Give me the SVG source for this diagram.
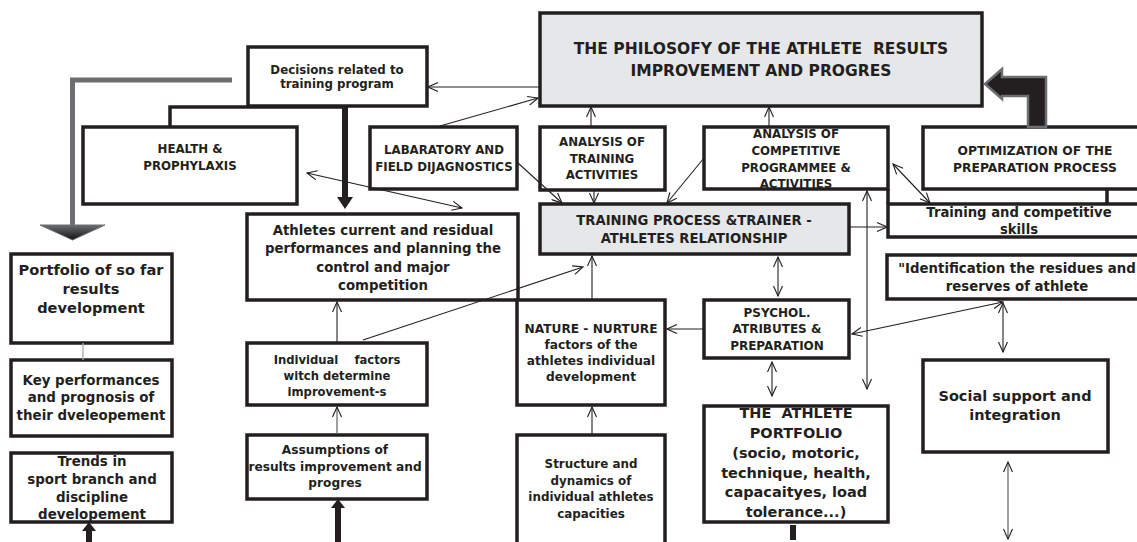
<svg xmlns="http://www.w3.org/2000/svg" width="1137" height="542" viewBox="0 0 1137 542">
<style>
.b{fill:#fff;stroke:#231f20;stroke-width:3.5}
.g{fill:#e6e7e8;stroke:#231f20;stroke-width:3.5}
.t{font-family:"DejaVu Sans","Liberation Sans",sans-serif;font-weight:bold;fill:#231f20;text-anchor:middle}
.c{stroke:#231f20;stroke-width:1.1;fill:none}
.cg{stroke:#6d6e71;stroke-width:1.3;fill:none}
</style>
<defs>
<marker id="ah" viewBox="0 0 12 10" refX="11" refY="5" markerWidth="12" markerHeight="10" markerUnits="userSpaceOnUse" orient="auto-start-reverse">
<path d="M1,0.5 L11,5 L1,9.5" fill="none" stroke="#231f20" stroke-width="1.1"/>
</marker>
<linearGradient id="gg" x1="0" y1="0" x2="0" y2="1">
<stop offset="0" stop-color="#6d6e71"/><stop offset="1" stop-color="#111"/>
</linearGradient>
</defs>

<g id="health-back"><path d="M170,127 V107 H345" fill="none" stroke="#231f20" stroke-width="3.5"/></g>

<g id="decisions"><rect class="b" x="248" y="47" width="179" height="59"/>
<text class="t" font-size="11.8"><tspan x="337" y="74">Decisions related to</tspan><tspan x="337" y="88">training program</tspan></text></g>

<g id="philosophy"><rect class="g" x="540" y="13" width="442" height="93"/>
<text class="t" font-size="15.5" xml:space="preserve"><tspan x="761" y="54">THE PHILOSOFY OF THE ATHLETE  RESULTS</tspan><tspan x="761" y="76">IMPROVEMENT AND PROGRES</tspan></text></g>

<g id="health"><rect class="b" x="83" y="127" width="214" height="77"/>
<text class="t" font-size="11.8"><tspan x="190" y="153">HEALTH &amp;</tspan><tspan x="190" y="170">PROPHYLAXIS</tspan></text></g>

<g id="lab"><rect class="b" x="370" y="127" width="147" height="62"/>
<text class="t" font-size="11.8"><tspan x="444" y="154">LABARATORY AND</tspan><tspan x="444" y="171">FIELD DIJAGNOSTICS</tspan></text></g>

<g id="analysis-training"><rect class="b" x="540" y="127" width="125" height="63"/>
<text class="t" font-size="11.8"><tspan x="602" y="146">ANALYSIS OF</tspan><tspan x="602" y="163">TRAINING</tspan><tspan x="602" y="179">ACTIVITIES</tspan></text></g>

<g id="analysis-competitive"><rect class="b" x="704" y="127" width="184" height="62"/>
<text class="t" font-size="11.8"><tspan x="796" y="138">ANALYSIS OF</tspan><tspan x="796" y="155">COMPETITIVE</tspan><tspan x="796" y="172">PROGRAMMEE &amp;</tspan><tspan x="796" y="188">ACTIVITIES</tspan></text></g>

<g id="optimization"><rect class="b" x="923" y="127" width="216" height="62"/>
<text class="t" font-size="12.3"><tspan x="1035" y="155">OPTIMIZATION OF THE</tspan><tspan x="1035" y="172">PREPARATION PROCESS</tspan></text></g>

<g id="skills"><path d="M888,189 V204 M1107,189 V204" stroke="#231f20" stroke-width="3.5"/><rect class="b" x="888" y="204" width="251" height="33"/>
<text class="t" font-size="13.2"><tspan x="1019" y="217">Training and competitive</tspan><tspan x="1019" y="234">skills</tspan></text></g>

<g id="training-process"><rect class="g" x="540" y="204" width="309" height="50"/>
<text class="t" font-size="13.2"><tspan x="694" y="225">TRAINING PROCESS &amp;TRAINER -</tspan><tspan x="694" y="243">ATHLETES RELATIONSHIP</tspan></text></g>

<g id="athletes-current"><rect class="b" x="247" y="214" width="271" height="86"/>
<text class="t" font-size="13.3"><tspan x="383" y="235">Athletes current and residual</tspan><tspan x="383" y="253">performances and planning the</tspan><tspan x="383" y="272">control and major</tspan><tspan x="383" y="290">competition</tspan></text></g>

<g id="identification"><rect class="b" x="887" y="255" width="252" height="44"/>
<text class="t" font-size="13.3"><tspan x="1017" y="273">"Identification the residues and</tspan><tspan x="1017" y="291">reserves of athlete</tspan></text></g>

<g id="portfolio-so-far"><rect class="b" x="11" y="254" width="161" height="89"/>
<text class="t" font-size="14.6"><tspan x="91" y="275">Portfolio of so far</tspan><tspan x="91" y="294">results</tspan><tspan x="91" y="313">development</tspan></text></g>

<g id="key-performances"><rect class="b" x="11" y="360" width="161" height="76"/>
<text class="t" font-size="13.4"><tspan x="91" y="385">Key performances</tspan><tspan x="91" y="402">and prognosis of</tspan><tspan x="91" y="420">their dveleopement</tspan></text></g>

<g id="trends"><rect class="b" x="11" y="453" width="161" height="69"/>
<text class="t" font-size="13.4"><tspan x="92" y="466">Trends in</tspan><tspan x="92" y="484">sport branch and</tspan><tspan x="92" y="502">discipline</tspan><tspan x="92" y="519">developement</tspan></text></g>

<g id="individual"><rect class="b" x="247" y="343" width="180" height="62"/>
<text class="t" font-size="11.6" xml:space="preserve"><tspan x="337" y="364">Individual    factors</tspan><tspan x="337" y="380">witch determine</tspan><tspan x="337" y="396">improvement-s</tspan></text></g>

<g id="assumptions"><rect class="b" x="247" y="435" width="180" height="64"/>
<text class="t" font-size="12.2"><tspan x="335" y="454">Assumptions of</tspan><tspan x="335" y="471">results improvement and</tspan><tspan x="335" y="487">progres</tspan></text></g>

<g id="nature-nurture"><rect class="b" x="517" y="300" width="148" height="105"/>
<text class="t" font-size="12.2"><tspan x="591" y="333">NATURE - NURTURE</tspan><tspan x="591" y="349">factors of the</tspan><tspan x="591" y="365">athletes individual</tspan><tspan x="591" y="381">development</tspan></text></g>

<g id="structure"><rect class="b" x="517" y="435" width="148" height="120"/>
<text class="t" font-size="11.9"><tspan x="591" y="468">Structure and</tspan><tspan x="591" y="485">dynamics of</tspan><tspan x="591" y="501">individual athletes</tspan><tspan x="591" y="518">capacities</tspan></text></g>

<g id="psychol"><rect class="b" x="704" y="300" width="145" height="58"/>
<text class="t" font-size="12"><tspan x="777" y="317">PSYCHOL.</tspan><tspan x="777" y="333">ATRIBUTES &amp;</tspan><tspan x="777" y="350">PREPARATION</tspan></text></g>

<g id="athlete-portfolio"><rect class="b" x="704" y="406" width="184" height="116"/>
<text class="t" font-size="14.5" xml:space="preserve"><tspan x="796" y="418">THE  ATHLETE</tspan><tspan x="796" y="438">PORTFOLIO</tspan><tspan x="796" y="458">(socio, motoric,</tspan><tspan x="796" y="478">technique, health,</tspan><tspan x="796" y="497">capacaityes, load</tspan><tspan x="796" y="517">tolerance...)</tspan></text></g>

<g id="social"><rect class="b" x="923" y="360" width="185" height="92"/>
<text class="t" font-size="14.5"><tspan x="1015" y="401">Social support and</tspan><tspan x="1015" y="420">integration</tspan></text></g>

<g id="connectors">
<!-- gray elbow arrow to portfolio -->
<path d="M232,80 H72.5 V226" fill="none" stroke="#6d6e71" stroke-width="5"/>
<polygon points="40,225 105,225 72.5,240" fill="url(#gg)" stroke="#6d6e71" stroke-width="1"/>
<!-- thick arrow from optimization to philosophy -->
<polygon points="985,84 1002,69 1002,77 1046,77 1046,127 1028,127 1028,96 1002,96 1002,99" fill="#231f20" stroke="#6d6e71" stroke-width="2.5" stroke-linejoin="miter"/>
<!-- thick arrow decisions to athletes current -->
<rect x="342" y="106" width="6" height="93" fill="#231f20"/>
<polygon points="337,197 353,197 345,209" fill="#231f20"/>
<!-- thick arrow up into trends -->
<rect x="86" y="529" width="6" height="13" fill="#231f20"/>
<polygon points="82,531 96,531 89,522" fill="#231f20"/>
<!-- thick arrow up into assumptions -->
<rect x="335" y="506" width="6" height="36" fill="#231f20"/>
<polygon points="331,508 345,508 338,499" fill="#231f20"/>
<!-- thick stub below athlete portfolio -->
<rect x="790" y="525" width="6" height="15" fill="#231f20"/>
<!-- portfolio to key -->
<line x1="83" y1="343" x2="83" y2="360" stroke="#a7a9ac" stroke-width="1.3"/>

<line class="c" x1="540" y1="87" x2="428" y2="87" marker-end="url(#ah)"/>
<line class="c" x1="440" y1="126" x2="538" y2="98" marker-end="url(#ah)"/>
<line class="c" x1="591" y1="127" x2="591" y2="107" marker-end="url(#ah)"/>
<line class="c" x1="769" y1="127" x2="769" y2="107" marker-end="url(#ah)"/>
<line class="c" x1="518" y1="163" x2="562" y2="203" marker-end="url(#ah)"/>
<line class="c" x1="594" y1="190" x2="594" y2="203" marker-end="url(#ah)"/>
<line class="c" x1="704" y1="158" x2="667" y2="203" marker-end="url(#ah)"/>
<line class="c" x1="893" y1="164" x2="930" y2="203" marker-start="url(#ah)" marker-end="url(#ah)"/>
<line class="c" x1="849" y1="227" x2="887" y2="227" marker-end="url(#ah)"/>
<line class="c" x1="867" y1="191" x2="867" y2="389" marker-start="url(#ah)" marker-end="url(#ah)"/>
<line class="c" x1="778" y1="257" x2="778" y2="296" marker-start="url(#ah)" marker-end="url(#ah)"/>
<line class="c" x1="772" y1="362" x2="772" y2="396" marker-start="url(#ah)" marker-end="url(#ah)"/>
<line class="c" x1="852" y1="334" x2="1003" y2="302" marker-start="url(#ah)" marker-end="url(#ah)"/>
<line class="c" x1="1003" y1="303" x2="1003" y2="352" marker-start="url(#ah)" marker-end="url(#ah)"/>
<line class="cg" x1="1008" y1="462" x2="1008" y2="539" marker-start="url(#ah)" marker-end="url(#ah)"/>
<line class="c" x1="704" y1="329" x2="667" y2="329" marker-end="url(#ah)"/>
<line class="c" x1="592" y1="300" x2="592" y2="256" marker-end="url(#ah)"/>
<line class="c" x1="363" y1="340" x2="583" y2="267" marker-end="url(#ah)"/>
<line class="c" x1="337" y1="343" x2="337" y2="302" marker-end="url(#ah)"/>
<line class="cg" x1="337" y1="434" x2="337" y2="407" marker-end="url(#ah)"/>
<line class="c" x1="592" y1="434" x2="592" y2="407" marker-end="url(#ah)"/>
<line class="c" x1="307" y1="173" x2="462" y2="208" marker-start="url(#ah)" marker-end="url(#ah)"/>
</g>
</svg>
